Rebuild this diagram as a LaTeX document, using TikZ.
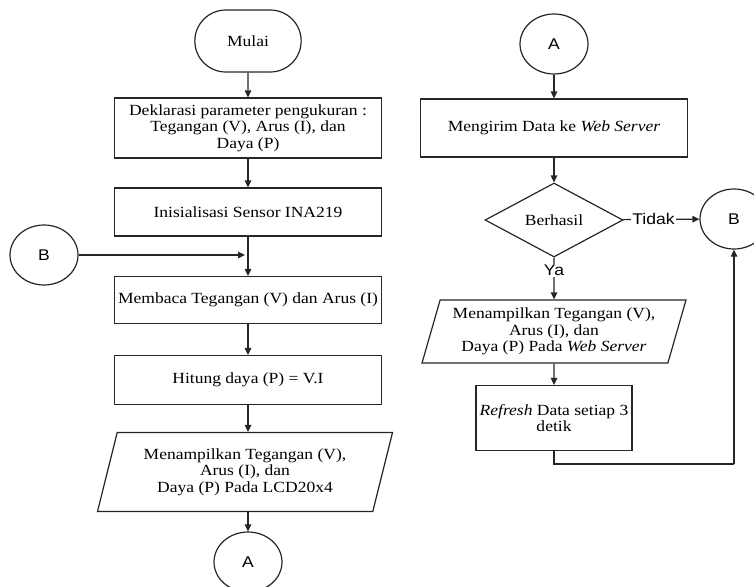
\documentclass[tikz,border=0pt]{standalone}
\usepackage{fontspec}
\setmainfont{Liberation Serif}[FakeStretch=1.13]
\newfontfamily\sansfont{Liberation Sans}[FakeStretch=1.13]
\usetikzlibrary{shapes,arrows.meta}
\pgfdeclarelayer{edgelayer}
\pgfdeclarelayer{nodelayer}
\pgfsetlayers{edgelayer,nodelayer,main}
\tikzset{font=\fontsize{15.5}{16.7}\selectfont}
\tikzstyle{none}=[inner sep=0pt]
\tikzstyle{terminal}=[rounded rectangle,draw=black!85,line width=1.2pt,fill=white,minimum width=113pt,minimum height=62pt]
\tikzstyle{proc}=[rectangle,draw=black!85,line width=1.2pt,fill=white,align=center,inner xsep=2pt,minimum width=267pt]
\tikzstyle{io}=[trapezium,trapezium left angle=70,trapezium right angle=110,trapezium stretches body,draw=black!85,line width=1.2pt,fill=white,align=center,inner xsep=2pt]
\tikzstyle{decision}=[diamond,aspect=1.86,draw=black!85,line width=1.2pt,fill=white,minimum width=138pt,minimum height=74pt,inner sep=0pt]
\tikzstyle{conn}=[ellipse,draw=black!85,line width=1.2pt,fill=white,minimum width=68pt,minimum height=60pt,font=\sansfont\fontsize{15.5}{16.7}\selectfont]
\tikzstyle{lbl}=[fill=white,inner sep=1pt,font=\sansfont\fontsize{15.5}{16.7}\selectfont]
\tikzstyle{flow}=[line width=1.2pt,draw=black!85,-{Triangle[length=7pt,width=6.5pt]}]
\tikzstyle{link}=[line width=1.2pt,draw=black!85]

\begin{document}
\begin{tikzpicture}[x=1pt,y=-1pt]
	\useasboundingbox (0,0) rectangle (754,586);
	\begin{pgfonlayer}{nodelayer}
		\node [style=terminal] (0) at (248, 41) {Mulai};
		\node [style=proc, minimum height=60pt] (1) at (248, 128) {Deklarasi parameter pengukuran :\\Tegangan (V), Arus (I), dan\\Daya (P)};
		\node [style=proc, minimum height=48pt] (2) at (248, 212) {Inisialisasi Sensor INA219};
		\node [style=proc, minimum height=47pt] (3) at (248, 300) {Membaca Tegangan (V) dan Arus (I)};
		\node [style=proc, minimum height=49pt] (4) at (248, 380) {Hitung daya (P) = V.I};
		\node [style=io, minimum width=295pt, minimum height=79pt] (5) at (245, 472) {Menampilkan Tegangan (V),\\Arus (I), dan\\Daya (P) Pada LCD20x4};
		\node [style=conn] (6) at (248, 562) {A};
		\node [style=conn] (7) at (554, 44) {A};
		\node [style=proc, minimum height=58pt] (8) at (554, 128) {Mengirim Data ke \textit{Web Server}};
		\node [style=decision] (9) at (554, 220) {Berhasil};
		\node [style=conn] (10) at (734, 219) {B};
		\node [style=conn] (11) at (44, 255) {B};
		\coordinate (12) at (245, 255);
		\node [style=io, trapezium left angle=71.5, trapezium right angle=108.5, minimum width=264pt, minimum height=63pt] (13) at (554, 331.5) {Menampilkan Tegangan (V),\\Arus (I), dan\\Daya (P) Pada \textit{Web Server}};
		\node [style=proc, minimum width=156pt, minimum height=65pt] (14) at (554, 418) {\textit{Refresh} Data setiap 3\\detik};
		\coordinate (15) at (734, 464);
	\end{pgfonlayer}
	\begin{pgfonlayer}{edgelayer}
		\draw [style=flow] (0) to (1);
		\draw [style=flow] (1) to (2);
		\draw [style=flow] (2) to (3);
		\draw [style=flow] (11) to (12);
		\draw [style=flow] (3) to (4);
		\draw [style=flow] (4) to (4 |- 5.north);
		\draw [style=flow] (5.south -| 6) to (6);
		\draw [style=flow] (7) to (8);
		\draw [style=flow] (8) to (9);
		\draw [style=flow] (9) to node [style=lbl, pos=0.4] {Tidak} (10);
		\draw [style=flow] (9) to node [style=lbl, pos=0.3] {Ya} (13);
		\draw [style=flow] (13) to (14);
		\draw [style=link] (14) |- (15);
		\draw [style=flow] (15) to (10);
	\end{pgfonlayer}
\end{tikzpicture}
\end{document}
